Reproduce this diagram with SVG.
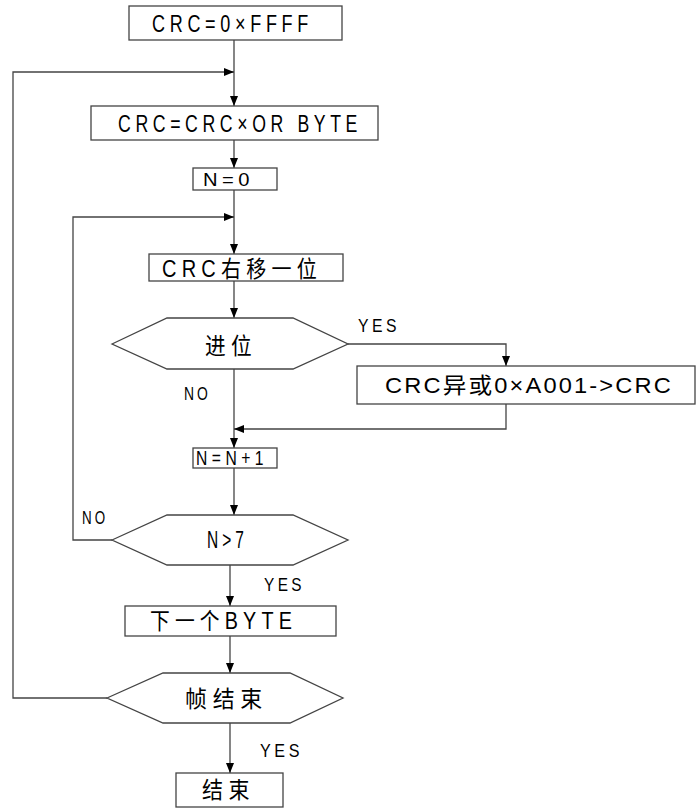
<svg xmlns="http://www.w3.org/2000/svg" width="696" height="809" viewBox="0 0 696 809">
<style>
.n{fill:#fff;stroke:#444;stroke-width:1.3}
.c{fill:none;stroke:#444;stroke-width:1.3}
text{font-family:"Liberation Sans","Noto Sans CJK SC",sans-serif;fill:#000;letter-spacing:6px}
.t{font-size:23px}
.s{font-size:21px}
.w{font-size:22px;letter-spacing:2px}
.l{font-size:18px;letter-spacing:4px}
</style>
<defs>
<marker id="a" viewBox="0 0 10 8" refX="10" refY="4" markerWidth="10" markerHeight="8" markerUnits="userSpaceOnUse" orient="auto"><path d="M0,0L10,4L0,8z" fill="#000"/></marker>
</defs>
<rect width="696" height="809" fill="#fff"/>
<g id="connectors">
<path class="c" d="M234,40V106" marker-end="url(#a)"/>
<path class="c" d="M107,698H13V72H234" marker-end="url(#a)"/>
<path class="c" d="M234,140V168" marker-end="url(#a)"/>
<path class="c" d="M234,190V254" marker-end="url(#a)"/>
<path class="c" d="M112,540H73V217H234" marker-end="url(#a)"/>
<path class="c" d="M234,281V318" marker-end="url(#a)"/>
<path class="c" d="M348,344H506V366" marker-end="url(#a)"/>
<path class="c" d="M234,369V448" marker-end="url(#a)"/>
<path class="c" d="M506,404V429H234" marker-end="url(#a)"/>
<path class="c" d="M234,468V515" marker-end="url(#a)"/>
<path class="c" d="M230,565V606" marker-end="url(#a)"/>
<path class="c" d="M230,636V673" marker-end="url(#a)"/>
<path class="c" d="M230,723V773" marker-end="url(#a)"/>
</g>
<g id="start">
<rect class="n" x="129" y="6" width="213" height="34"/>
<text class="t" x="152" y="32" textLength="161" lengthAdjust="spacingAndGlyphs">CRC=0×FFFF</text>
</g>
<g id="xor-byte">
<rect class="n" x="91" y="106" width="287" height="34"/>
<text class="t" x="118" y="132" textLength="244" lengthAdjust="spacingAndGlyphs">CRC=CRC×OR BYTE</text>
</g>
<g id="n0">
<rect class="n" x="193" y="168" width="84" height="22"/>
<text class="l" x="203" y="186" textLength="51" lengthAdjust="spacingAndGlyphs">N=0</text>
</g>
<g id="shift">
<rect class="n" x="149" y="254" width="194" height="27"/>
<text class="t" x="162" y="277" textLength="160" lengthAdjust="spacingAndGlyphs">CRC右移一位</text>
</g>
<g id="carry">
<polygon class="n" points="112,344 167,318 293,318 348,344 293,369 167,369"/>
<text class="t" x="205" y="354" textLength="52" lengthAdjust="spacingAndGlyphs">进位</text>
</g>
<g id="xor-a001">
<rect class="n" x="357" y="366" width="338" height="38"/>
<text class="w" x="385" y="393" textLength="288" lengthAdjust="spacingAndGlyphs">CRC异或0×A001-&gt;CRC</text>
</g>
<g id="inc">
<rect class="n" x="193" y="448" width="84" height="20"/>
<text class="s" x="196" y="465" textLength="72" lengthAdjust="spacingAndGlyphs">N=N+1</text>
</g>
<g id="gt7">
<polygon class="n" points="112,540 167,515 293,515 348,540 293,565 167,565"/>
<text class="t" x="207" y="548" textLength="41" lengthAdjust="spacingAndGlyphs">N&gt;7</text>
</g>
<g id="next">
<rect class="n" x="125" y="606" width="211" height="30"/>
<text class="t" x="150" y="629" textLength="147" lengthAdjust="spacingAndGlyphs">下一个BYTE</text>
</g>
<g id="frame-end">
<polygon class="n" points="107,698 163,673 290,673 343,698 290,723 163,723"/>
<text class="t" x="185" y="707" textLength="83" lengthAdjust="spacingAndGlyphs">帧结束</text>
</g>
<g id="end">
<rect class="n" x="176" y="773" width="107" height="34"/>
<text class="t" x="202" y="798" textLength="53" lengthAdjust="spacingAndGlyphs">结束</text>
</g>
<g id="labels">
<text class="l" x="358" y="332" textLength="42" lengthAdjust="spacingAndGlyphs">YES</text>
<text class="l" x="184" y="400" textLength="27" lengthAdjust="spacingAndGlyphs">NO</text>
<text class="l" x="82" y="524" textLength="26" lengthAdjust="spacingAndGlyphs">NO</text>
<text class="l" x="264" y="591" textLength="41" lengthAdjust="spacingAndGlyphs">YES</text>
<text class="l" x="260" y="757" textLength="43" lengthAdjust="spacingAndGlyphs">YES</text>
</g>
</svg>
